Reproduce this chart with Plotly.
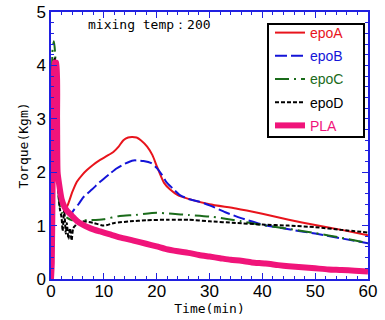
import plotly.graph_objects as go

# ---- data ----
t_A = [2.0, 2.5, 3.0, 4.0, 4.9, 6.0, 6.8, 8.0, 9.3, 10.5, 11.8, 12.8, 13.7, 14.6, 15.3, 16.2, 17.0, 18.2, 19.2, 20.0, 21.4, 22.5, 24.0, 26.0, 30.0, 35.0, 40.0, 45.0, 50.0, 55.0, 60.0]
v_A = [1.45, 1.32, 1.35, 1.62, 1.82, 1.96, 2.04, 2.14, 2.23, 2.3, 2.38, 2.48, 2.6, 2.65, 2.66, 2.65, 2.6, 2.48, 2.32, 2.12, 1.8, 1.68, 1.57, 1.5, 1.4, 1.32, 1.22, 1.11, 1.01, 0.92, 0.82]

t_B = [3.0, 3.6, 4.3, 5.2, 6.2, 7.8, 9.3, 11.0, 12.4, 14.0, 15.6, 17.5, 19.0, 20.0, 21.0, 21.8, 23.0, 24.4, 26.0, 28.0, 30.0, 33.0, 36.0, 40.0, 45.0, 50.0, 55.0, 60.0]
v_B = [1.25, 1.2, 1.29, 1.4, 1.54, 1.68, 1.82, 1.96, 2.07, 2.16, 2.22, 2.21, 2.17, 2.08, 1.95, 1.82, 1.7, 1.57, 1.5, 1.45, 1.38, 1.25, 1.14, 1.02, 0.93, 0.85, 0.76, 0.67]

t_C = [0.0, 0.3, 0.55, 0.8, 1.0, 1.3, 1.6, 2.0, 3.0, 4.0, 5.0, 7.0, 10.0, 13.0, 16.0, 20.0, 23.0, 26.0, 30.0, 33.0, 36.0, 40.0, 45.0, 50.0, 55.0, 60.0]
v_C = [0.0, 4.3, 4.45, 4.2, 3.0, 1.8, 1.4, 1.25, 1.15, 1.1, 1.1, 1.1, 1.12, 1.18, 1.2, 1.24, 1.22, 1.2, 1.17, 1.13, 1.08, 1.01, 0.94, 0.86, 0.77, 0.67]

t_D = [0.0, 0.4, 0.7, 0.9, 1.1, 1.4, 1.7, 2.0, 2.2, 2.5, 2.8, 3.0, 3.3, 3.6, 3.9, 4.2, 4.6, 5.0, 6.0, 8.0, 10.0, 12.0, 15.0, 18.0, 22.0, 26.0, 30.0, 35.0, 40.0, 45.0, 50.0, 55.0, 60.0]
v_D = [0.0, 3.8, 4.15, 3.9, 2.5, 1.6, 1.3, 1.15, 0.9, 1.3, 0.85, 1.05, 0.75, 0.95, 0.72, 0.95, 1.0, 1.05, 1.08, 1.05, 1.0, 1.05, 1.08, 1.1, 1.11, 1.11, 1.08, 1.05, 1.02, 1.0, 0.97, 0.92, 0.87]

t_P = [0.0, 0.15, 0.3, 0.5, 0.7, 1.0, 1.15, 1.25, 1.5, 2.0, 2.5, 3.0, 4.0, 5.0, 6.0, 7.0, 8.0, 9.3, 11.0, 13.0, 15.6, 18.0, 20.0, 21.8, 24.0, 26.0, 28.0, 30.0, 32.0, 34.0, 36.0, 38.0, 40.6, 43.0, 45.0, 47.5, 50.0, 52.5, 55.0, 57.5, 60.0]
v_P = [0.0, 0.3, 1.8, 3.5, 4.05, 4.05, 3.0, 2.0, 1.8, 1.5, 1.36, 1.28, 1.18, 1.08, 1.02, 0.97, 0.93, 0.89, 0.84, 0.78, 0.72, 0.66, 0.61, 0.56, 0.52, 0.49, 0.45, 0.42, 0.39, 0.36, 0.34, 0.31, 0.29, 0.26, 0.24, 0.22, 0.2, 0.18, 0.17, 0.155, 0.14]

names = ["epoA", "epoB", "epoC", "epoD", "PLA"]
colors = ["#e8141c", "#1414d8", "#1a6b1a", "#000000", "#f0147a"]

fig = go.Figure()
series = [(t_A, v_A), (t_B, v_B), (t_C, v_C), (t_D, v_D), (t_P, v_P)]
dashes = ["solid", "12px,4px", "14px,5px,2px,5px", "4px,2px", "solid"]
widths = [2, 2, 2, 2, 6]
for i, (tx, vy) in enumerate(series):
    fig.add_trace(go.Scatter(
        x=tx, y=vy, mode="lines",
        name=f"<span style='color:{colors[i]}'>{names[i]}</span>",
        legendgroup=names[i],
        line=dict(color=colors[i], width=widths[i], dash=dashes[i], shape="spline", smoothing=0.6),
    ))

axis_common = dict(
    showline=True, linecolor="#2020e0", linewidth=1.5, mirror="ticks",
    ticks="inside", tickcolor="#2020e0", ticklen=6, tickwidth=1,
    showgrid=False, zeroline=False, automargin=False,
    tickfont=dict(family="Liberation Sans", size=17, color="black"),
)

fig.update_xaxes(range=[0, 60], dtick=10, ticklabelstandoff=-4,
                 minor=dict(dtick=2, ticks="inside", ticklen=3, tickcolor="#2020e0"),
                 title=dict(text="Time(min)", font=dict(family="DejaVu Sans Mono", size=13, color="black"), standoff=0),
                 **axis_common)
fig.update_yaxes(range=[0, 5], dtick=1,
                 minor=dict(dtick=0.2, ticks="inside", ticklen=3, tickcolor="#2020e0"),
                 title=dict(text="Torque(Kgm)", font=dict(family="DejaVu Sans Mono", size=13, color="black"), standoff=5),
                 **axis_common)

fig.add_annotation(text="mixing temp：200", x=0.11, y=0.955, xref="paper", yref="paper",
                   xanchor="left", yanchor="middle", showarrow=False,
                   font=dict(family="DejaVu Sans Mono", size=13, color="black"))

# legend frame (paper coords of the plot area)
fig.add_shape(type="rect", xref="paper", yref="paper",
              x0=(268 - 51) / 317, x1=(364 - 51) / 317,
              y0=(279 - 137) / 267, y1=(279 - 24) / 267,
              line=dict(color="black", width=2), fillcolor="white", layer="above")

fig.update_layout(
    width=385, height=320,
    margin=dict(l=51, r=17, t=12, b=41),
    paper_bgcolor="white", plot_bgcolor="white",
    showlegend=True,
    legend=dict(x=(270 - 51) / 317, y=(279 - 17) / 267, xanchor="left", yanchor="top",
                borderwidth=0, bgcolor="rgba(0,0,0,0)",
                font=dict(family="Liberation Sans", size=14),
                itemwidth=30, tracegroupgap=2),
)

fig.write_html("out.html", config={"displayModeBar": False},
               post_script="document.body.style.margin='0';document.body.style.overflow='hidden';")
